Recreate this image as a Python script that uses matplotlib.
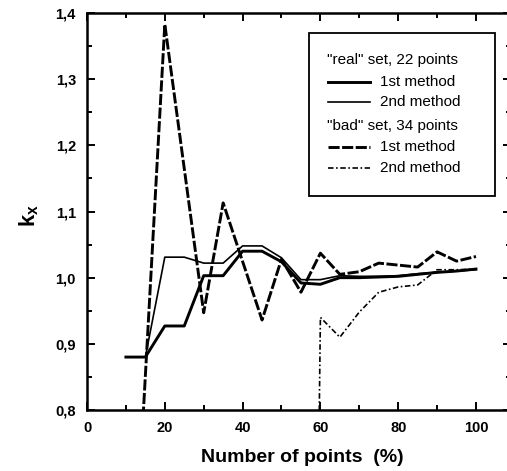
import matplotlib
matplotlib.use("Agg")
import matplotlib.pyplot as plt
from matplotlib.ticker import MultipleLocator, FuncFormatter
from matplotlib.lines import Line2D
from matplotlib.patches import Rectangle

plt.rcParams['font.family'] = ['Liberation Sans', 'DejaVu Sans']
plt.rcParams['mathtext.fontset'] = 'custom'
plt.rcParams['mathtext.rm'] = 'Liberation Sans'
plt.rcParams['mathtext.bf'] = 'Liberation Sans:bold'
plt.rcParams['mathtext.it'] = 'Liberation Sans:italic'
plt.rcParams['lines.scale_dashes'] = False

# "real" set (22 points)
real_x = [10, 15, 20, 25, 30, 35, 40, 45, 50, 55, 60, 65, 70, 75, 80, 85, 90, 95, 100]
real_m1 = [0.880, 0.880, 0.927, 0.927, 1.003, 1.003, 1.040, 1.040, 1.024, 0.992,
           0.990, 1.000, 1.000, 1.001, 1.002, 1.005, 1.008, 1.010, 1.013]
real_m2 = [0.880, 0.880, 1.031, 1.031, 1.022, 1.022, 1.048, 1.048, 1.030, 0.997,
           0.997, 1.003, 1.002, 1.002, 1.003, 1.006, 1.008, 1.010, 1.012]

# "bad" set (34 points)
bad1_x = [10, 20, 30, 35, 45, 50, 55, 60, 65, 70, 75, 80, 85, 90, 95, 100]
bad_m1 = [0.32, 1.383, 0.947, 1.113, 0.936, 1.028, 0.978, 1.037, 1.005, 1.009,
          1.022, 1.019, 1.016, 1.039, 1.025, 1.032]
bad2_x = [55, 60, 65, 70, 75, 80, 85, 90, 95, 100]
bad_m2 = [-1.5, 0.940, 0.910, 0.948, 0.978, 0.986, 0.989, 1.012, 1.012, 1.013]

THICK = dict(lw=2.1, ls='-')
THIN = dict(lw=1.2, ls='-')
DASHED = dict(lw=2.1, ls=(0, (8, 1.8)))
DASHDOT = dict(lw=1.2, ls=(0, (4, 1.8, 1.2, 1.8)))

legend_rows = [
    ('"real" set, 22 points', None),
    ('1st method', THICK),
    ('2nd method', THIN),
    ('"bad" set, 34 points', None),
    ('1st method', DASHED),
    ('2nd method', DASHDOT),
]

fig = plt.figure(figsize=(5.07, 4.71), dpi=100)
ax = fig.add_axes([0.1716, 0.1295, 0.8363, 0.8429])

ax.plot(real_x, real_m1, color='black', **THICK)
ax.plot(real_x, real_m2, color='black', **THIN)
ax.plot(bad1_x, bad_m1, color='black', **DASHED)
ax.plot(bad2_x, bad_m2, color='black', **DASHDOT)

ax.set_xlim(0, 109)
ax.set_ylim(0.8, 1.4)

ax.xaxis.set_major_locator(MultipleLocator(20))
ax.xaxis.set_minor_locator(MultipleLocator(10))
ax.yaxis.set_major_locator(MultipleLocator(0.1))
ax.yaxis.set_minor_locator(MultipleLocator(0.05))
ax.yaxis.set_major_formatter(FuncFormatter(lambda v, p: f"{v:.1f}".replace('.', ',')))
ax.xaxis.set_major_formatter(FuncFormatter(lambda v, p: f"{v:.0f}"))

ax.tick_params(which='both', direction='in', top=True, right=True, width=1.4)
ax.tick_params(which='major', length=6, pad=8)
ax.tick_params(which='minor', length=3.6)
for lab in ax.get_xticklabels() + ax.get_yticklabels():
    lab.set_fontsize(10.5)
    lab.set_fontweight('bold')

for sp in ax.spines.values():
    sp.set_linewidth(1.8)

ax.set_xlabel('Number of points  (%)', fontsize=14, fontweight='bold')
ax.xaxis.set_label_coords(0.508, -0.097)
ax.set_ylabel(r'$\mathbf{k_x}$', fontsize=16, rotation=90)
ax.yaxis.set_label_coords(-0.108, 0.49)

# legend box
box = Rectangle((0.5236, 0.539), 0.4387, 0.4106, transform=ax.transAxes,
                facecolor='white', edgecolor='black', lw=1.3, zorder=5)
ax.add_patch(box)
row_y = [0.8816, 0.8262, 0.7758, 0.7154, 0.6625, 0.6096]
for (label, style), yy in zip(legend_rows, row_y):
    if style is None:
        ax.text(0.566, yy, label, transform=ax.transAxes, fontsize=11,
                va='center', ha='left', zorder=6)
    else:
        ax.add_line(Line2D([0.568, 0.667], [yy, yy], transform=ax.transAxes,
                           color='black', zorder=6, **style))
        ax.text(0.691, yy, label, transform=ax.transAxes, fontsize=11,
                va='center', ha='left', zorder=6)

fig.savefig('out.png', dpi=100)
